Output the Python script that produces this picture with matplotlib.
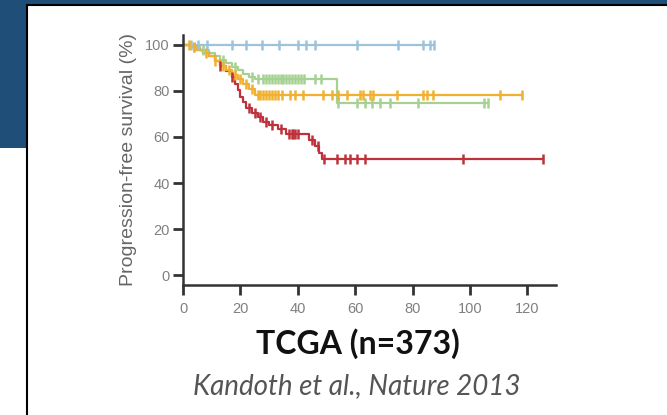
import numpy as np
import matplotlib.pyplot as plt
from matplotlib.patches import Rectangle
from matplotlib.lines import Line2D

plt.rcParams["font.family"] = ["Liberation Sans", "DejaVu Sans"]

#%%
# Kaplan-Meier curves (months, %)
blue_times = [0]
blue_surv = [100]
blue_end = 87.5
blue_censor = [2.8, 5.2, 8.4, 17, 22, 27.5, 33.5, 40, 43, 46, 60.7, 75, 83.7, 86, 87.5]

green_times = [0, 3, 6, 9, 11, 13, 15, 17, 19, 21, 23, 25, 53.5]
green_surv = [100, 99, 98, 96.5, 95, 93.5, 92, 90.5, 89, 87.5, 86, 85.3, 74.6]
green_end = 106.4
green_censor = [4, 7, 14, 18, 24, 26, 28, 29, 30, 31, 32, 33, 34, 35, 36, 37, 38,
                39, 40, 41, 42, 46, 48, 54, 60.7, 63.5, 66, 68.7, 72, 82, 105, 106.4]

orange_times = [0, 3, 5, 7, 9, 11, 13, 15, 17, 19, 21, 23, 25]
orange_surv = [100, 99, 98, 96.5, 95, 93, 91, 89, 87, 85, 83, 81, 78.3]
orange_end = 118.2
orange_censor = [2, 4, 8, 11, 14, 16, 18, 20, 22, 24, 26, 27, 28, 29, 30, 31, 32, 33,
                 34.5, 37.3, 39, 41.9, 48.8, 52, 54, 57, 61.7, 62.8, 65, 66.3, 74.6,
                 83.7, 85, 87.2, 110.6, 118.2]

red_times = [0, 3, 5, 7, 9, 11, 13, 15, 17, 18, 19, 20, 21, 22, 24, 26, 28, 30, 33,
             36, 44, 46, 47.5, 48.5]
red_surv = [100, 99, 98, 96.5, 95, 93, 91, 88.5, 86, 83, 80.5, 77.5, 75, 72.5, 70.5,
            68.5, 66.5, 65, 63.5, 61.5, 58.5, 56, 53, 50.5]
red_end = 125.5
red_censor = [13, 17, 23, 25, 27, 29, 31, 34, 37, 38, 38.5, 39, 40, 45, 47, 49, 53.7,
              56.5, 58.2, 60.7, 63.5, 97.7, 125.5]

xticks = [0, 20, 40, 60, 80, 100, 120]
yticks = [0, 20, 40, 60, 80, 100]

navy = "#1f4e79"


#%%
def km_curve(ax, times, surv, end, censor, color):
    t = np.array(list(times) + [end])
    s = np.array(list(surv) + [surv[-1]])
    ax.step(t, s, where="post", color=color, linewidth=1.6, zorder=2)
    idx = np.searchsorted(np.array(times), np.array(censor), side="right") - 1
    ax.plot(censor, np.array(surv)[idx], linestyle="none", marker="|",
            markersize=7, markeredgewidth=1.8, color=color, zorder=3)


#%%
fig = plt.figure(figsize=(6.67, 4.15), dpi=100)
fig.patch.set_facecolor("white")

# slide decoration
W, H = 667, 415
fig.patches.append(Rectangle((0, 1 - 5/H), 1, 5/H, transform=fig.transFigure,
                             facecolor=navy, edgecolor="none", zorder=0))
fig.patches.append(Rectangle((0, 1 - 148/H), 27/W, 148/H, transform=fig.transFigure,
                             facecolor=navy, edgecolor="none", zorder=0))
fig.lines.append(Line2D([27/W, 1], [1 - 5.5/H, 1 - 5.5/H], transform=fig.transFigure,
                        color="black", linewidth=1.5))
fig.lines.append(Line2D([27/W, 27/W], [0, 1 - 5.5/H], transform=fig.transFigure,
                        color="black", linewidth=1.5))

ax = fig.add_axes([183/W, 130/H, (556 - 183)/W, (285 - 35)/H])

km_curve(ax, blue_times, blue_surv, blue_end, blue_censor, "#9dc3dc")
km_curve(ax, green_times, green_surv, green_end, green_censor, "#a5d192")
km_curve(ax, red_times, red_surv, red_end, red_censor, "#bf323b")
km_curve(ax, orange_times, orange_surv, orange_end, orange_censor, "#f0b130")

ax.set_xlim(0, 130)
ax.set_ylim(-4.3, 104.3)
ax.set_xticks(xticks)
ax.set_yticks(yticks)
ax.spines["top"].set_visible(False)
ax.spines["right"].set_visible(False)
for sp in ["left", "bottom"]:
    ax.spines[sp].set_linewidth(1.8)
    ax.spines[sp].set_color("#333333")
ax.tick_params(axis="both", length=7.5, width=2, color="#333333",
               labelsize=10.5, labelcolor="#808080")
ax.tick_params(axis="x", pad=5)
ax.tick_params(axis="y", pad=2)
ax.set_ylabel("Progression-free survival (%)", fontsize=14, color="#666666", labelpad=6)

fig.text(358/W, 1 - 344/H, "TCGA (n=373)", ha="center", va="center",
         fontsize=23, fontweight="bold", color="#111111", family=["Lato", "DejaVu Sans"])
fig.text(357/W, 1 - 386/H, "Kandoth et al., Nature 2013", ha="center", va="center",
         fontsize=20, style="italic", color="#555555", family=["Lato", "DejaVu Sans"])

fig.savefig("out.png", dpi=100, facecolor=fig.get_facecolor())
